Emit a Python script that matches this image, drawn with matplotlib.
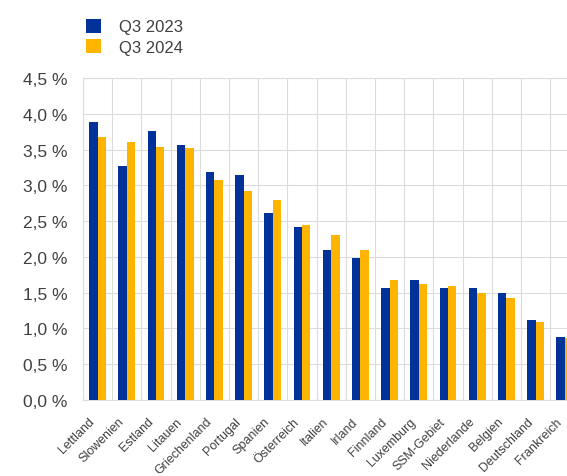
import matplotlib
matplotlib.use("Agg")
import matplotlib.pyplot as plt
import matplotlib.transforms as mtransforms
import numpy as np

plt.rcParams['font.family'] = ['Liberation Sans', 'DejaVu Sans']

# values (percent)
laender = ["Lettland", "Slowenien", "Estland", "Litauen", "Griechenland",
           "Portugal", "Spanien", "Österreich", "Italien", "Irland",
           "Finnland", "Luxemburg", "SSM-Gebiet", "Niederlande", "Belgien",
           "Deutschland", "Frankreich"]
q3_2023 = [3.88, 3.27, 3.76, 3.57, 3.18, 3.14, 2.62, 2.42, 2.10, 1.98,
           1.57, 1.68, 1.56, 1.56, 1.49, 1.12, 0.88]
q3_2024 = [3.68, 3.60, 3.54, 3.52, 3.08, 2.92, 2.80, 2.44, 2.31, 2.10,
           1.68, 1.62, 1.60, 1.49, 1.43, 1.09, 0.86]
y_ticks = [0.0, 0.5, 1.0, 1.5, 2.0, 2.5, 3.0, 3.5, 4.0, 4.5]

blau = "#003299"
gelb = "#FFB400"
grau = "#404040"

fig = plt.figure(figsize=(5.67, 4.77), dpi=100)
# axes runs past the right edge, as in the cropped original
ax = fig.add_axes([0.1464, 0.1593, 0.8755, 0.6751])

x = np.arange(len(laender))
w = 0.29
ax.bar(x - w / 2, q3_2023, width=w, color=blau, label="Q3 2023", zorder=3)
ax.bar(x + w / 2, q3_2024, width=w, color=gelb, label="Q3 2024", zorder=3)

ax.set_xlim(-0.5, len(laender) - 0.5)
ax.set_ylim(0, 4.5)
ax.set_yticks(y_ticks)
ax.set_yticklabels([f"{v:.1f} %".replace(".", ",") for v in y_ticks],
                   fontsize=12.5, color=grau)
ax.tick_params(axis="y", length=0, pad=11)

# grid: horizontal at ticks, vertical between categories
ax.set_xticks(np.arange(-0.5, len(laender), 1.0), minor=True)
ax.set_xticks(x)
ax.set_xticklabels(laender, rotation=45, ha="right", va="top",
                   rotation_mode="anchor", fontsize=9, color=grau)
ax.tick_params(axis="x", which="both", length=0, pad=11)
shift = mtransforms.ScaledTranslation(-9 / 100, 0, fig.dpi_scale_trans)
for lab in ax.get_xticklabels():
    lab.set_transform(lab.get_transform() + shift)

ax.grid(axis="y", color="#dcdcdc", lw=0.8, zorder=0)
ax.grid(axis="x", which="minor", color="#dcdcdc", lw=0.8, zorder=0)
ax.grid(axis="x", which="major", visible=False)
for s in ax.spines.values():
    s.set_color("#dcdcdc")
    s.set_linewidth(0.8)

ax.legend(loc="upper left", bbox_to_anchor=(0.125, 0.99), bbox_transform=fig.transFigure,
          frameon=False, fontsize=12, handlelength=0.9, handleheight=0.9,
          handletextpad=1.1, labelspacing=0.3, labelcolor=grau)

fig.savefig("out.png", dpi=100)
